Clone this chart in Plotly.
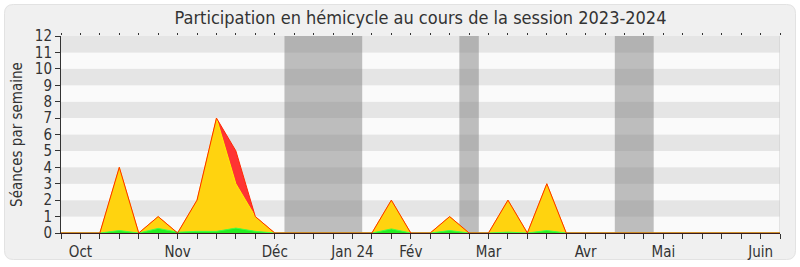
import plotly.graph_objects as go

# Weekly participation, session 2023-2024 (week index 0..37)
semaines = list(range(38))
seances = [0, 0, 0, 4, 0, 1, 0, 2, 7, 5, 1, 0, 0, 0, 0, 0, 0, 2, 0, 0,
           1, 0, 0, 2, 0, 3, 0, 0, 0, 0, 0, 0, 0, 0, 0, 0, 0, 0]
presences = [0, 0, 0, 4, 0, 1, 0, 2, 7, 3, 1, 0, 0, 0, 0, 0, 0, 2, 0, 0,
             1, 0, 0, 2, 0, 3, 0, 0, 0, 0, 0, 0, 0, 0, 0, 0, 0, 0]
interventions = [0, 0, 0, 0.15, 0, 0.28, 0.05, 0.1, 0.1, 0.3, 0.1, 0, 0, 0, 0, 0, 0, 0.25, 0, 0,
                 0.15, 0, 0, 0.05, 0, 0.15, 0, 0, 0, 0, 0, 0, 0, 0, 0, 0, 0, 0]

# Parliamentary recess periods (in week index)
vacances = [(11.5, 15.5), (20.5, 21.5), (28.5, 30.5)]

# Month labels on the weekly axis
mois_pos = [1, 6, 11, 15, 18, 22, 27, 31, 36]
mois_txt = ["Oct", "Nov", "Déc", "Jan 24", "Fév", "Mar", "Avr", "Mai", "Juin"]

FONT = "DejaVu Sans Condensed, DejaVu Sans, sans-serif"
W, H = 800, 267
L, R, T, B = 61, 20, 36, 34
PW, PH = W - L - R, H - T - B

fig = go.Figure()

fig.add_trace(go.Scatter(x=semaines, y=seances, mode="lines", fill="tozeroy",
                         fillcolor="#ff3333", line=dict(width=0), hoverinfo="skip"))
fig.add_trace(go.Scatter(x=semaines, y=presences, mode="lines", fill="tozeroy",
                         fillcolor="#ffd30f", line=dict(color="#ffee00", width=1), hoverinfo="skip"))
fig.add_trace(go.Scatter(x=semaines, y=interventions, mode="lines", fill="tozeroy",
                         fillcolor="#22ee22", line=dict(color="#44ff44", width=1), hoverinfo="skip"))
fig.add_trace(go.Scatter(x=semaines, y=seances, mode="lines",
                         line=dict(color="#ff2a00", width=1), hoverinfo="skip"))
# invisible trace carrying the top tick axis
fig.add_trace(go.Scatter(x=[0, 37], y=[0, 0], xaxis="x2", mode="lines",
                         line=dict(width=0), hoverinfo="skip", showlegend=False))


def to_paper(px, py):
    return (px - L) / PW, (T + PH - py) / PH


def rounded_rect(x0, y0, x1, y1, r):
    def p(px, py):
        a, b = to_paper(px, py)
        return f"{a:.5f},{b:.5f}"
    pts = ["M " + p(x0 + r, y0),
           "L " + p(x1 - r, y0),
           "Q " + p(x1, y0) + " " + p(x1, y0 + r),
           "L " + p(x1, y1 - r),
           "Q " + p(x1, y1) + " " + p(x1 - r, y1),
           "L " + p(x0 + r, y1),
           "Q " + p(x0, y1) + " " + p(x0, y1 - r),
           "L " + p(x0, y0 + r),
           "Q " + p(x0, y0) + " " + p(x0 + r, y0)]
    return " ".join(pts) + " Z"


shapes = [dict(type="path", xref="paper", yref="paper", layer="below",
               path=rounded_rect(4.5, 4.5, 795.5, 259.5, 9),
               fillcolor="#f0f0f0", line=dict(color="#e2e2e2", width=1))]

# alternating horizontal bands
for k in range(12):
    shapes.append(dict(type="rect", xref="x", yref="y", layer="below",
                       x0=0, x1=37, y0=k, y1=k + 1, line=dict(width=0),
                       fillcolor="#e5e5e5" if k % 2 == 1 else "#fafafa"))
for a, b in vacances:
    shapes.append(dict(type="rect", xref="x", yref="y", layer="below",
                       x0=a, x1=b, y0=0, y1=12, line=dict(width=0),
                       fillcolor="rgba(128,128,128,0.5)"))
shapes.append(dict(type="line", xref="x", yref="y", layer="below",
                   x0=37, x1=37, y0=0, y1=12, line=dict(color="#cccccc", width=1)))

ticktext = [""] * len(semaines)
for pos, txt in zip(mois_pos, mois_txt):
    ticktext[pos] = txt

fig.update_layout(
    width=W, height=H,
    margin=dict(l=L, r=R, t=T, b=B),
    paper_bgcolor="white", plot_bgcolor="rgba(0,0,0,0)",
    showlegend=False,
    shapes=shapes,
    font=dict(family=FONT, color="#333333", size=15),
    title=dict(text="Participation en hémicycle au cours de la session 2023-2024",
               x=(L + PW / 2) / W, xanchor="center", y=1 - 18 / H, yanchor="middle",
               font=dict(family=FONT, size=18, color="#333333")),
    xaxis=dict(range=[0, 37], tickmode="array", tickvals=semaines, ticktext=ticktext,
               ticks="outside", ticklen=5, tickcolor="#333333", showgrid=False,
               zeroline=False, showline=True, linecolor="#3a1c1c", linewidth=1,
               tickfont=dict(size=15, color="#333333"), automargin=False),
    xaxis2=dict(range=[0, 37], overlaying="x", side="top", tickmode="array",
                tickvals=semaines, ticks="outside", ticklen=2, tickcolor="#333333",
                showticklabels=False, showgrid=False, zeroline=False, showline=False,
                automargin=False),
    yaxis=dict(range=[0, 12], tickmode="array", tickvals=list(range(13)),
               ticks="outside", ticklen=5, tickcolor="#333333", showgrid=False,
               zeroline=False, showline=True, linecolor="#333333", linewidth=1,
               tickfont=dict(size=15, color="#333333"), automargin=False,
               title=dict(text="Séances par semaine", standoff=8,
                          font=dict(size=15, color="#333333"))),
)

fig.write_html("out.html")
